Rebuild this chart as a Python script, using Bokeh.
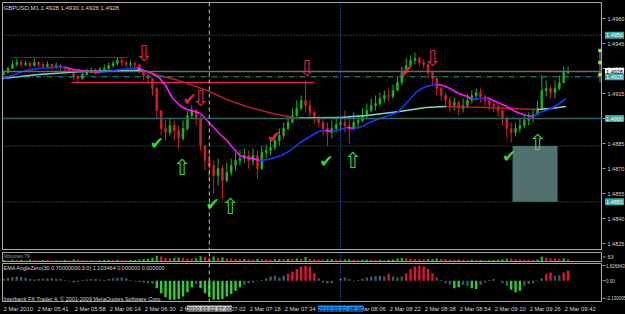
from bokeh.plotting import figure
from bokeh.models import Span, Label, Range1d
from bokeh.layouts import column, row
from bokeh.embed import file_html
from bokeh.resources import INLINE
from bokeh.core.properties import value

# ---------------- data (minutes after 05:00, GBPUSD M1, 2010-03-02) ----------------
bar_min = list(range(26, 286, 2))
first_open = 1.49264
close = [1.49276, 1.49300, 1.49324, 1.49336, 1.49324, 1.49330, 1.49318, 1.49336, 1.49324, 1.49312,
         1.49324, 1.49312, 1.49318, 1.49306, 1.49300, 1.49288, 1.49252, 1.49240, 1.49264, 1.49282,
         1.49288, 1.49282, 1.49294, 1.49300, 1.49318, 1.49330, 1.49348, 1.49336, 1.49324, 1.49330,
         1.49324, 1.49288, 1.49258, 1.49240, 1.49180, 1.49048, 1.48940, 1.48916, 1.48958, 1.48928,
         1.48880, 1.48940, 1.49018, 1.49048, 1.49000, 1.48838, 1.48748, 1.48718, 1.48658, 1.48700,
         1.48628, 1.48676, 1.48718, 1.48748, 1.48760, 1.48778, 1.48748, 1.48778, 1.48700, 1.48796,
         1.48808, 1.48826, 1.48868, 1.48898, 1.48940, 1.48976, 1.49018, 1.49060, 1.49108, 1.49078,
         1.49036, 1.49000, 1.48976, 1.48940, 1.48916, 1.48940, 1.48964, 1.48976, 1.48958, 1.48940,
         1.48976, 1.48988, 1.49018, 1.49048, 1.49078, 1.49090, 1.49120, 1.49138, 1.49132, 1.49168,
         1.49216, 1.49276, 1.49318, 1.49348, 1.49360, 1.49336, 1.49324, 1.49276, 1.49240, 1.49180,
         1.49138, 1.49108, 1.49078, 1.49096, 1.49060, 1.49078, 1.49108, 1.49138, 1.49156, 1.49132,
         1.49108, 1.49084, 1.49072, 1.49048, 1.49000, 1.48940, 1.48916, 1.48940, 1.48958, 1.48988,
         1.49000, 1.49024, 1.49060, 1.49168, 1.49180, 1.49156, 1.49180, 1.49216, 1.49276, 1.49280]
high = [1.49288, 1.49312, 1.49348, 1.49360, 1.49354, 1.49348, 1.49342, 1.49360, 1.49342, 1.49336,
        1.49342, 1.49330, 1.49336, 1.49324, 1.49318, 1.49306, 1.49294, 1.49264, 1.49282, 1.49300,
        1.49306, 1.49300, 1.49312, 1.49324, 1.49336, 1.49348, 1.49366, 1.49366, 1.49348, 1.49348,
        1.49342, 1.49330, 1.49288, 1.49264, 1.49240, 1.49192, 1.49050, 1.48988, 1.49000, 1.48988,
        1.48958, 1.48988, 1.49048, 1.49078, 1.49060, 1.49018, 1.48838, 1.48808, 1.48748, 1.48760,
        1.48718, 1.48736, 1.48760, 1.48796, 1.48808, 1.48820, 1.48808, 1.48820, 1.48808, 1.48838,
        1.48844, 1.48868, 1.48910, 1.48940, 1.48976, 1.49018, 1.49060, 1.49108, 1.49138, 1.49228,
        1.49108, 1.49048, 1.49018, 1.49000, 1.48976, 1.48988, 1.49000, 1.49012, 1.49048, 1.49018,
        1.49036, 1.49024, 1.49060, 1.49090, 1.49120, 1.49138, 1.49156, 1.49168, 1.49180, 1.49204,
        1.49252, 1.49312, 1.49360, 1.49378, 1.49396, 1.49372, 1.49354, 1.49336, 1.49288, 1.49240,
        1.49198, 1.49156, 1.49132, 1.49126, 1.49108, 1.49120, 1.49144, 1.49168, 1.49180, 1.49180,
        1.49144, 1.49120, 1.49108, 1.49084, 1.49060, 1.49018, 1.48976, 1.48976, 1.49000, 1.49018,
        1.49036, 1.49060, 1.49108, 1.49258, 1.49228, 1.49198, 1.49228, 1.49258, 1.49312, 1.49312]
low = [1.49258, 1.49270, 1.49300, 1.49312, 1.49306, 1.49312, 1.49300, 1.49312, 1.49306, 1.49300,
       1.49306, 1.49294, 1.49300, 1.49288, 1.49282, 1.49270, 1.49228, 1.49222, 1.49234, 1.49258,
       1.49270, 1.49264, 1.49276, 1.49282, 1.49294, 1.49306, 1.49318, 1.49312, 1.49306, 1.49306,
       1.49300, 1.49270, 1.49228, 1.49216, 1.49138, 1.49000, 1.48898, 1.48868, 1.48898, 1.48868,
       1.48820, 1.48868, 1.48928, 1.49000, 1.48958, 1.48808, 1.48688, 1.48640, 1.48550, 1.48598,
       1.48520, 1.48616, 1.48658, 1.48688, 1.48718, 1.48736, 1.48700, 1.48718, 1.48640, 1.48690,
       1.48760, 1.48778, 1.48808, 1.48838, 1.48880, 1.48928, 1.48976, 1.49000, 1.49048, 1.49036,
       1.49000, 1.48970, 1.48952, 1.48898, 1.48838, 1.48880, 1.48916, 1.48928, 1.48916, 1.48850,
       1.48928, 1.48940, 1.48976, 1.49000, 1.49036, 1.49048, 1.49072, 1.49096, 1.49108, 1.49120,
       1.49168, 1.49198, 1.49276, 1.49312, 1.49324, 1.49312, 1.49300, 1.49240, 1.49204, 1.49138,
       1.49108, 1.49060, 1.49036, 1.49048, 1.49018, 1.49036, 1.49060, 1.49090, 1.49108, 1.49096,
       1.49072, 1.49048, 1.49036, 1.49012, 1.48958, 1.48880, 1.48856, 1.48892, 1.48916, 1.48940,
       1.48958, 1.48976, 1.49018, 1.49050, 1.49132, 1.49120, 1.49120, 1.49168, 1.49210, 1.49264]
volume = [12, 10, 14, 9, 11, 8, 13, 10, 9, 12, 11, 8, 10, 9, 12, 10, 18, 15, 11, 9,
          10, 8, 9, 11, 13, 12, 14, 10, 9, 11, 12, 16, 20, 22, 30, 45, 38, 28, 25, 30,
          32, 27, 24, 22, 26, 40, 35, 30, 38, 28, 34, 26, 22, 20, 18, 19, 17, 16, 22, 18,
          17, 15, 18, 20, 19, 22, 21, 24, 20, 35, 22, 18, 16, 15, 17, 20, 14, 13, 16, 18,
          14, 12, 13, 15, 14, 12, 13, 11, 14, 16, 24, 28, 26, 22, 20, 17, 15, 18, 20, 24,
          22, 19, 16, 14, 15, 13, 12, 14, 11, 12, 10, 11, 12, 14, 18, 24, 22, 17, 15, 14,
          13, 12, 16, 38, 30, 24, 22, 20, 26, 18]
angle = [0.2, 0.35, 0.45, 0.5, 0.45, 0.35, 0.2, 0.15, 0.2, 0.25,
         0.3, 0.3, 0.25, 0.2, 0.1, -0.1, -0.2, -0.15, 0.1, 0.15,
         0.2, 0.2, 0.15, 0.1, 0.2, 0.3, 0.35, 0.4, 0.3, 0.1,
         -0.1, -0.15, -0.2, -0.3, -0.4, -0.9, -1.5, -2.0, -2.3, -2.3,
         -2.2, -1.9, -1.4, -0.8, -0.4, -0.9, -1.5, -2.0, -2.3, -2.3,
         -2.2, -1.9, -1.6, -1.2, -0.8, -0.5, -0.3, -0.2, -0.1, 0.1,
         0.3, 0.5, 0.6, 0.4, 0.6, 0.8, 1.1, 1.4, 1.7, 1.8,
         1.7, 0.9, 0.3, -0.2, -0.35, -0.3, 0.0, 0.3, 0.4, 0.2,
         -0.1, 0.1, 0.25, 0.4, 0.5, 0.55, 0.6, 0.5, 0.8, 0.5,
         0.4, 0.5, 0.9, 1.4, 1.7, 1.8, 1.7, 1.4, 0.9, 0.4,
         0.1, -0.3, -0.5, -0.9, -0.8, -0.5, -0.6, -0.9, -1.0, -0.5,
         -0.2, 0.1, 0.2, 0.0, -0.3, -0.6, -1.1, -1.4, -1.2, -0.6,
         -0.4, -0.3, -0.1, 0.3, 0.8, 1.0, 0.6, 0.65, 1.0, 1.2]
angle_level = 0.7

fast_t = [26, 31, 36, 42, 49, 54, 58, 65, 70, 74, 79, 84, 87, 90, 93, 97, 100, 103, 106, 108,
          110, 112, 116, 119, 122, 125, 128, 131, 134, 137, 140, 143, 147, 150, 153, 157, 161, 166, 170, 173,
          176, 180, 183, 186, 190, 193, 198, 202, 206, 209, 212, 215, 218, 221, 224, 227, 230, 234, 238, 240,
          244, 247, 250, 253, 256, 259, 262, 265, 268, 271, 274, 277, 280, 283]
fast_ma = [1.49240, 1.49264, 1.49288, 1.49300, 1.49306, 1.49308, 1.49294, 1.49282, 1.49276, 1.49282,
           1.49294, 1.49300, 1.49306, 1.49288, 1.49276, 1.49246, 1.49198, 1.49126, 1.49084, 1.49066,
           1.49054, 1.49048, 1.49030, 1.48988, 1.48946, 1.48904, 1.48868, 1.48820, 1.48778, 1.48766,
           1.48760, 1.48748, 1.48754, 1.48766, 1.48778, 1.48808, 1.48850, 1.48892, 1.48922, 1.48928,
           1.48922, 1.48934, 1.48946, 1.48940, 1.48952, 1.48976, 1.49000, 1.49018, 1.49036, 1.49078,
           1.49120, 1.49162, 1.49186, 1.49198, 1.49204, 1.49198, 1.49180, 1.49150, 1.49132, 1.49114,
           1.49120, 1.49126, 1.49108, 1.49090, 1.49072, 1.49048, 1.49030, 1.49018, 1.49012, 1.49036,
           1.49048, 1.49066, 1.49090, 1.49120]
slow_t = [25, 42, 62, 85, 89, 97, 106, 119, 128, 137, 149, 158, 161, 180, 192, 207, 219, 228, 239, 253, 270, 276, 283]
slow_ma = [1.49240, 1.49264, 1.49282, 1.49288, 1.49291, 1.49258, 1.49228, 1.49168, 1.49114, 1.49072,
           1.49030, 1.49006, 1.49003, 1.49006, 1.49018, 1.49042, 1.49066, 1.49072, 1.49069, 1.49063,
           1.49054, 1.49060, 1.49072]

sell_t, sell_p = [90, 116, 164.5, 222], [1.49390, 1.49120, 1.49300, 1.49360]
redcheck_t, redcheck_p = [111, 149.5, 210], [1.49120, 1.48892, 1.49288]
greencheck_t, greencheck_p = [96, 121.5, 173.5, 257], [1.48856, 1.48490, 1.48748, 1.48778]
buy_t, buy_p = [107.5, 129.5, 185.5, 270], [1.48706, 1.48472, 1.48748, 1.48856]

zone_t = [258.6, 279.2]
zone_p = [1.48500, 1.48835]
res_line_t, res_line_p = [57, 168], 1.49216
top_line_t, top_line_p = [29.6, 82.6], 1.49366
bracket_t = 298.6
bracket_p = [1.49216, 1.49408]
bracket_dots = [1.49408, 1.49336, 1.49264]

price_ticks = [1.4825, 1.4840, 1.4855, 1.4870, 1.4885, 1.4900, 1.4915, 1.4930, 1.4945, 1.4960]
tag_levels = [1.4950, 1.49282, 1.4925, 1.4900, 1.4850]
tag_texts = ["1.4950", "1.4928", "1.4925", "1.4900", "1.4850"]
tag_bg = ["#3aa6a0", "#f4f4f4", "#3aa6a0", "#3aa6a0", "#3aa6a0"]
tag_fg = ["#ffffff", "#000000", "#ffffff", "#ffffff", "#ffffff"]
vol_scale_level, vol_scale_text = 35, "63"
ind_ticks = [1.826843, 0.0, -2.130095]
ind_tick_labels = ["1.826843", "0.00", "-2.130095"]
time_ticks = [25.5, 41, 58, 74, 90, 106, 122, 138, 154, 170, 186, 202, 218, 234, 250, 266, 282]
time_labels = ["2 Mar 2010", "2 Mar 05:41", "2 Mar 05:58", "2 Mar 06:14", "2 Mar 06:30", "2 Mar 06:46",
               "2 Mar 07:02", "2 Mar 07:18", "2 Mar 07:34", "2 Mar 07:50", "2 Mar 08:06", "2 Mar 08:22",
               "2 Mar 08:38", "2 Mar 08:54", "2 Mar 09:10", "2 Mar 09:26", "2 Mar 09:42"]
vline_grey, vline_blue = 120, 180

# ---------------- styling ----------------
BG = "#000000"
BORDER = "#a8a8a8"
TXT = "#d4d4d4"
FONT = "Liberation Sans"
X_RANGE = Range1d(25.46, 299.74)
SIDE_X = Range1d(0, 23)     # pixel-like scale of the 23 px price-scale strip


def make_fig(fh, y_range, top, bottom, outline=BORDER):
    f = figure(frame_width=600, frame_height=fh, x_range=X_RANGE, y_range=y_range,
               output_backend="svg", toolbar_location=None,
               x_axis_location=None, y_axis_location=None,
               min_border_left=2, min_border_right=0, min_border_top=top, min_border_bottom=bottom,
               background_fill_color=BG, border_fill_color=BG, outline_line_color=outline)
    f.grid.visible = False
    return f


def make_side(fh, y_range, top, bottom):
    f = figure(frame_width=23, frame_height=fh, x_range=SIDE_X, y_range=y_range,
               output_backend="svg", toolbar_location=None,
               x_axis_location=None, y_axis_location=None,
               min_border_left=0, min_border_right=0, min_border_top=top, min_border_bottom=bottom,
               background_fill_color=BG, border_fill_color=BG, outline_line_color=None)
    f.grid.visible = False
    return f


def add_vlines(f):
    f.add_layout(Span(location=vline_grey, dimension="height", line_color="#bdbdbd",
                      line_dash="4 3", line_width=1))
    f.add_layout(Span(location=vline_blue, dimension="height", line_color="#2a78ff",
                      line_dash="1 2", line_width=1))


def scale_labels(side, levels, texts, size, x=5, ticks=True):
    if ticks:
        side.segment(x0=[0] * len(levels), x1=[3] * len(levels), y0=levels, y1=levels,
                     line_color=BORDER, line_width=1)
    side.text(x=[x] * len(levels), y=levels, text=texts, text_color=TXT, text_font=value(FONT),
              text_font_size=size, text_align="left", text_baseline="middle")


# ---------------- main price pane ----------------
PRICE_Y = Range1d(1.48208, 1.49696)
main = make_fig(248, PRICE_Y, top=2, bottom=0)

for lvl, col, dash, w in [(1.4950, "#2f8a86", "1 2", 1), (1.49282, "#6a6a6a", "solid", 1.5),
                          (1.4925, "#2a9a98", "6 2 1 2", 1), (1.4900, "#2d6664", "solid", 1.5),
                          (1.48835, "#2f7f80", "1 2", 1), (1.4850, "#2f7f90", "1 2", 1)]:
    main.add_layout(Span(location=lvl, dimension="width", line_color=col, line_dash=dash, line_width=w))
add_vlines(main)

main.quad(left=[zone_t[0]], right=[zone_t[1]], bottom=[zone_p[0]], top=[zone_p[1]],
          fill_color="#51706f", line_color=None)
main.segment(x0=[res_line_t[0]], x1=[res_line_t[1]], y0=[res_line_p], y1=[res_line_p],
             line_color="#e0214a", line_width=1.5)
main.segment(x0=[top_line_t[0]], x1=[top_line_t[1]], y0=[top_line_p], y1=[top_line_p],
             line_color="#b0205a", line_width=1, line_dash="2 1")

opens = [first_open] + close[:-1]
bar_col = ["#22b522" if c >= o else "#d2232a" for o, c in zip(opens, close)]
main.segment(x0=bar_min, x1=bar_min, y0=low, y1=high, line_color=bar_col, line_width=1)
main.vbar(x=bar_min, width=0.9, top=[max(o, c) for o, c in zip(opens, close)],
          bottom=[min(o, c) for o, c in zip(opens, close)], fill_color=bar_col, line_color=bar_col,
          line_width=0.5)

s_col = ["#7fd8d2" if b >= a else "#b3202a" for a, b in zip(slow_ma[:-1], slow_ma[1:])]
main.segment(x0=slow_t[:-1], x1=slow_t[1:], y0=slow_ma[:-1], y1=slow_ma[1:], line_color=s_col, line_width=1.6)
f_col = ["#2233ff" if b >= a else "#ff1aff" for a, b in zip(fast_ma[:-1], fast_ma[1:])]
main.segment(x0=fast_t[:-1], x1=fast_t[1:], y0=fast_ma[:-1], y1=fast_ma[1:], line_color=f_col, line_width=1.6)

main.segment(x0=[bracket_t], x1=[bracket_t], y0=[bracket_p[0]], y1=[bracket_p[1]], line_color="#808080", line_width=1)
main.scatter(x=[bracket_t] * 3, y=bracket_dots, size=2.5, color="#7cff2a", marker="square")

SYM = value("DejaVu Sans")
main.text(x=sell_t, y=sell_p, text=["\u21e9"] * len(sell_t), text_color="#e0214a", text_font=SYM,
          text_font_size="22px", text_align="center", text_baseline="middle")
main.text(x=redcheck_t, y=redcheck_p, text=["\u2714"] * len(redcheck_t), text_color="#e0214a", text_font=SYM,
          text_font_size="17px", text_align="center", text_baseline="middle")
main.text(x=greencheck_t, y=greencheck_p, text=["\u2714"] * len(greencheck_t), text_color="#3fd23f", text_font=SYM,
          text_font_size="17px", text_align="center", text_baseline="middle")
main.text(x=buy_t, y=buy_p, text=["\u21e7"] * len(buy_t), text_color="#3fd23f", text_font=SYM,
          text_font_size="22px", text_align="center", text_baseline="middle")

main.add_layout(Label(x=1, y=246, x_units="screen", y_units="screen", text="GBPUSD,M1  1.4928 1.4930 1.4926 1.4928",
                      text_font=FONT, text_font_size="6px", text_color=TXT, text_baseline="top"))

# price scale strip (right of the price pane)
main_side = make_side(248, PRICE_Y, top=2, bottom=0)
scale_labels(main_side, price_ticks, ["%.4f" % v for v in price_ticks], "5.5px")
main_side.rect(x=[12] * len(tag_levels), y=tag_levels, width=19, height=7, height_units="screen",
               fill_color=tag_bg, line_color=None)
main_side.text(x=[12] * len(tag_levels), y=tag_levels, text=tag_texts, text_color=tag_fg,
               text_font=value(FONT), text_font_size="5.5px", text_align="center", text_baseline="middle")

# ---------------- volume pane ----------------
VOL_Y = Range1d(0, 70)
vol = make_fig(9, VOL_Y, top=2, bottom=1)
vcol = ["#22b522" if i == 0 or volume[i] >= volume[i - 1] else "#d2232a" for i in range(len(volume))]
vol.vbar(x=bar_min, width=1.0, top=volume, bottom=0, fill_color=vcol, line_color=None)
add_vlines(vol)
vol.add_layout(Label(x=1, y=9, x_units="screen", y_units="screen", text="Volumes 79", text_font=FONT,
                     text_font_size="5px", text_color="#9a9a9a", text_baseline="top"))
vol_side = make_side(9, VOL_Y, top=2, bottom=1)
scale_labels(vol_side, [vol_scale_level], [vol_scale_text], "5.5px")

# ---------------- indicator pane ----------------
IND_Y = Range1d(-2.62, 2.07)
ind = make_fig(39, IND_Y, top=1, bottom=0)
icol = ["#dc143c" if a > angle_level else ("#32cd32" if a < -angle_level else "#3c5a64") for a in angle]
ind.vbar(x=bar_min, width=1.1, top=angle, bottom=0, fill_color=icol, line_color=None)
add_vlines(ind)
ind.add_layout(Label(x=1, y=38, x_units="screen", y_units="screen",
                     text="EMA AngleZero(30.0.70000000.3.0) 1.103464 0.000000 0.000000",
                     text_font=FONT, text_font_size="5.5px", text_color=TXT, text_baseline="top"))
ind.add_layout(Label(x=1, y=1, x_units="screen", y_units="screen",
                     text="Interbank FX Trader 4, \u00a9 2001-2009 MetaQuotes Software Corp.",
                     text_font=FONT, text_font_size="5.5px", text_color=TXT, text_baseline="bottom"))
ind_side = make_side(39, IND_Y, top=1, bottom=0)
scale_labels(ind_side, ind_ticks, ind_tick_labels, "4.5px", x=3.5)

# ---------------- time axis strip ----------------
strip = make_fig(12, Range1d(0, 1), top=0, bottom=0, outline=None)
strip.text(x=time_ticks, y=[0.5] * len(time_ticks), text=time_labels, text_color=TXT,
           text_font=value(FONT), text_font_size="5.8px", text_align="left", text_baseline="middle",
           x_offset=1)
strip.add_layout(Label(x=vline_grey, y=0.5, text="2010.03.02 07:00", text_font=FONT, text_font_size="5.8px",
                       text_color="#000000", background_fill_color="#c8c8c8", text_align="center",
                       text_baseline="middle"))
strip.add_layout(Label(x=vline_blue, y=0.5, text="2010.03.02 08:00", text_font=FONT, text_font_size="5.8px",
                       text_color="#000000", background_fill_color="#1e8fff", text_align="center",
                       text_baseline="middle"))
strip_side = make_side(12, Range1d(0, 1), top=0, bottom=0)

layout = row(column(main, vol, ind, strip, spacing=0),
             column(main_side, vol_side, ind_side, strip_side, spacing=0),
             spacing=0, styles={"background-color": "black"})
open("out.html", "w").write(file_html(layout, INLINE))
